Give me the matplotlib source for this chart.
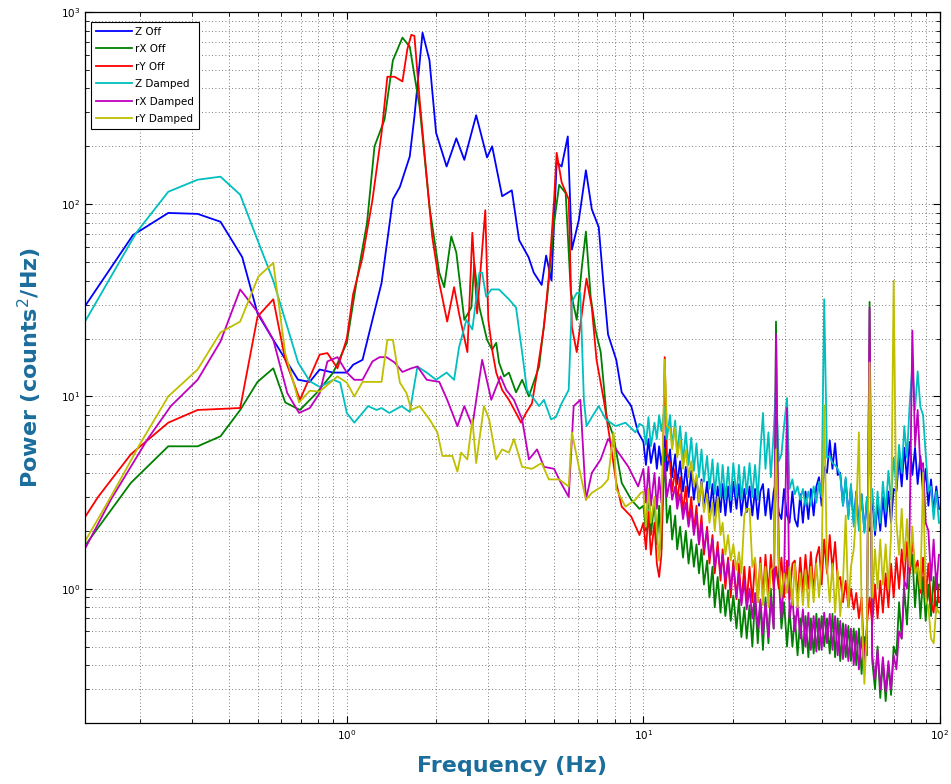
import numpy as np
import matplotlib.pyplot as plt

# ---- low frequency part (Hz, counts^2/Hz)
zoff_f = [0.132, 0.19, 0.25, 0.314, 0.375, 0.444, 0.5, 0.565, 0.63, 0.685, 0.75, 0.81, 0.9, 1.0,
          1.05, 1.13, 1.22, 1.31, 1.43, 1.51, 1.63, 1.69, 1.8, 1.9, 2.0, 2.17, 2.34, 2.49, 2.73,
          2.97, 3.09, 3.34, 3.6, 3.81, 4.1, 4.27, 4.54, 4.7, 4.9, 5.1, 5.3, 5.56, 5.74, 6.06,
          6.4, 6.7, 7.07, 7.35, 7.6, 8.1, 8.45, 9.1, 9.6]
zoff_v = [30, 69, 90, 89, 81, 53, 27, 19.7, 15, 12.2, 11.9, 13.8, 13.3, 13.3,
          14.6, 15.5, 25, 39, 106, 123, 177, 285, 780, 560, 235, 157, 220, 170, 290,
          175, 200, 110, 118, 65, 53, 44, 38, 54, 40, 165, 157, 225, 58, 83,
          150, 94, 76, 37, 21, 15.5, 10.5, 8.9, 6.5]

rxoff_f = [0.132, 0.187, 0.25, 0.314, 0.375, 0.437, 0.5, 0.565, 0.62, 0.695, 0.79, 0.9, 1.0,
           1.08, 1.17, 1.24, 1.34, 1.43, 1.54, 1.63, 1.76, 1.9, 2.05, 2.13, 2.25, 2.34, 2.49,
           2.63, 2.69, 2.8, 2.97, 3.09, 3.19, 3.26, 3.39, 3.52, 3.72, 3.9, 4.11, 4.45, 4.73,
           5.0, 5.2, 5.47, 5.69, 5.96, 6.2, 6.4, 6.64, 6.9, 7.18, 7.52, 7.93, 8.45, 9.1, 9.7]
rxoff_v = [1.7, 3.55, 5.5, 5.5, 6.2, 8.5, 11.9, 14, 9.3, 8.5, 10.4, 13.3, 19,
           40, 80, 200, 275, 560, 735, 660, 320, 97, 44, 37, 68, 56, 25,
           29, 49, 29, 19.7, 17.5, 19, 15, 12.7, 13.3, 10.5, 12.2, 10, 14.3, 32,
           80, 126, 114, 35, 25, 47, 72, 33, 22, 17, 7.8, 6.2, 3.55, 2.9, 2.6]

ryoff_f = [0.132, 0.145, 0.187, 0.25, 0.314, 0.437, 0.5, 0.565, 0.62, 0.695, 0.81, 0.86, 0.93,
           1.0, 1.05, 1.13, 1.22, 1.31, 1.37, 1.45, 1.54, 1.6, 1.65, 1.69, 1.76, 1.86, 1.94,
           2.05, 2.18, 2.3, 2.39, 2.55, 2.65, 2.75, 2.93, 3.0, 3.1, 3.19, 3.34, 3.52, 3.72,
           3.87, 4.02, 4.21, 4.38, 4.62, 4.8, 5.0, 5.1, 5.3, 5.6, 5.74, 5.96, 6.2, 6.43, 6.7,
           6.95, 7.35, 7.75, 8.1, 8.45, 9.1, 9.7]
ryoff_v = [2.4, 3.0, 5.0, 7.3, 8.5, 8.7, 26, 32, 15.5, 9.6, 16.5, 16.8, 14,
           20, 34, 53, 105, 235, 460, 460, 435, 640, 760, 750, 350, 139, 68,
           39, 24.5, 37, 27, 17, 71, 27, 93, 25, 17, 13.3, 10.8, 9.6, 8.2,
           7.3, 8.2, 9.2, 13.3, 23, 42, 106, 185, 130, 106, 23, 17, 27, 41, 29,
           15.5, 9.6, 5.7, 3.55, 2.67, 2.37, 1.9]

zd_f = [0.132, 0.195, 0.25, 0.314, 0.375, 0.437, 0.5, 0.565, 0.63, 0.685, 0.75, 0.81, 0.9, 0.95,
        1.0, 1.06, 1.18, 1.26, 1.31, 1.39, 1.53, 1.63, 1.73, 1.86, 2.0, 2.17, 2.3, 2.39, 2.53,
        2.65, 2.8, 2.86, 2.95, 3.07, 3.26, 3.52, 3.72, 3.9, 4.05, 4.21, 4.45, 4.62, 4.88, 5.07,
        5.3, 5.6, 5.74, 5.96, 6.13, 6.3, 6.43, 6.7, 7.07, 7.47, 8.06, 8.7, 9.4, 9.7]
zd_v = [25, 71, 116, 134, 139, 112, 65, 40, 23, 15, 12, 11.2, 12.2, 11.8,
        8.2, 7.3, 8.9, 8.5, 8.7, 8.2, 8.9, 8.3, 14.3, 13.3, 12.2, 13.3, 12.2, 18, 25,
        22.3, 44, 44, 33, 36, 36, 32, 29, 17, 10.8, 10, 8.9, 9.6, 7.6, 7.8,
        9.2, 10.8, 31, 34.5, 34.5, 9.6, 7, 7.8, 8.9, 7.6, 7, 7.3, 6.5, 7.2]

rxd_f = [0.132, 0.16, 0.213, 0.255, 0.314, 0.375, 0.437, 0.5, 0.565, 0.63, 0.69, 0.75, 0.81,
         0.86, 0.93, 1.0, 1.06, 1.13, 1.22, 1.29, 1.36, 1.45, 1.54, 1.65, 1.73, 1.86, 2.05,
         2.18, 2.36, 2.49, 2.65, 2.86, 3.07, 3.19, 3.3, 3.45, 3.66, 3.9, 4.11, 4.38, 4.62,
         5.0, 5.27, 5.6, 5.82, 6.13, 6.4, 6.7, 7.18, 7.6, 8.1, 8.9, 9.6]
rxd_v = [1.65, 2.9, 6.0, 8.9, 12.2, 19.3, 36, 27.5, 19.7, 10.4, 8.2, 8.7, 10.4,
         15.2, 16, 13.3, 12.2, 12.2, 15.2, 16, 16, 15, 13.4, 14, 14.3, 12.2, 11.9,
         9.6, 7, 8.9, 7, 15.5, 9.6, 11.2, 12.7, 10.8, 9.6, 7.6, 4.7, 5.3, 4.3,
         4.2, 3.55, 3.0, 8.9, 9.6, 2.9, 4.0, 4.7, 6.0, 5.3, 4.3, 3.4]

ryd_f = [0.132, 0.16, 0.202, 0.25, 0.314, 0.375, 0.437, 0.503, 0.565, 0.62, 0.69, 0.75, 0.81,
         0.93, 1.0, 1.06, 1.13, 1.22, 1.31, 1.37, 1.43, 1.51, 1.59, 1.65, 1.76, 1.9, 2.02,
         2.1, 2.27, 2.36, 2.43, 2.55, 2.65, 2.73, 2.9, 3.02, 3.19, 3.34, 3.52, 3.66, 3.9,
         4.21, 4.54, 4.8, 5.2, 5.6, 5.74, 6.06, 6.4, 6.7, 7.25, 7.6, 7.93, 8.1, 8.7, 9.4, 9.8]
ryd_v = [1.8, 3.0, 5.75, 10, 13.8, 21.5, 24.5, 42, 49.5, 16.8, 9.3, 10.7, 10.6,
         12.7, 11.8, 10, 11.9, 11.9, 11.9, 19.7, 19.7, 11.8, 10.4, 8.5, 8.9, 7.6, 6.5,
         4.9, 4.9, 4.06, 5.1, 4.7, 7.6, 4.5, 8.9, 7.6, 4.7, 5.3, 5.1, 6.0, 4.3,
         4.2, 4.5, 3.7, 3.7, 3.4, 6.5, 4.3, 2.9, 3.15, 3.4, 3.7, 6.5, 3.3, 2.67, 2.9, 3.15]

# ---- high frequency part, shared frequency bins (Hz)
hi_f = [10.0, 10.2, 10.4, 10.6, 10.9, 11.1, 11.3, 11.5, 11.8, 12.0,
        12.3, 12.5, 12.8, 13.0, 13.3, 13.6, 13.9, 14.2, 14.5, 14.8,
        15.1, 15.4, 15.7, 16.0, 16.4, 16.7, 17.1, 17.4, 17.8, 18.2,
        18.5, 18.9, 19.3, 19.7, 20.1, 20.6, 21.0, 21.4, 21.9, 22.3,
        22.8, 23.3, 23.8, 24.3, 24.8, 25.3, 25.8, 26.4, 26.9, 27.5,
        28.0, 28.6, 29.2, 29.8, 30.5, 31.1, 31.8, 32.4, 33.1, 33.8,
        34.5, 35.2, 36.0, 36.7, 37.5, 38.3, 39.1, 39.9, 40.7, 41.6,
        42.5, 43.4, 44.3, 45.2, 46.1, 47.1, 48.1, 49.1, 50.1, 51.2,
        52.2, 53.3, 54.4, 55.6, 56.7, 57.9, 59.1, 60.4, 61.6, 62.9,
        64.2, 65.6, 67.0, 68.4, 69.8, 71.3, 72.8, 74.3, 75.8, 77.4,
        79.0, 80.7, 82.4, 84.1, 85.9, 87.7, 89.5, 91.4, 93.3, 95.2,
        97.2, 99.2]

zoff_hi = [5.8, 4.4, 6.0, 4.5, 5.7, 4.2, 5.5, 4.4, 6.2, 4.1,
           5.3, 3.8, 5.0, 3.5, 4.6, 3.2, 4.3, 3.0, 4.1, 2.9,
           3.8, 2.7, 3.7, 2.6, 3.6, 2.5, 3.5, 2.4, 3.4, 2.5,
           3.5, 2.4, 3.4, 2.5, 3.6, 2.6, 3.5, 2.4, 3.3, 2.5,
           3.4, 2.4, 3.3, 2.3, 3.2, 3.5, 2.4, 3.3, 2.3, 3.2,
           3.6, 2.5, 2.3, 3.3, 2.4, 2.2, 3.2, 2.3, 2.1, 3.1,
           2.2, 3.2, 2.3, 3.3, 2.4, 3.4, 3.8, 2.7, 4.3, 4.0,
           5.9, 4.2, 5.7, 3.9, 4.0, 2.7, 3.7, 2.4, 3.4, 2.2,
           3.2, 2.1, 3.1, 2.0, 2.9, 2.0, 3.0, 1.9, 2.8, 2.0,
           3.0, 2.1, 3.2, 2.2, 3.3, 3.2, 4.8, 3.4, 5.4, 3.7,
           5.8, 3.9, 5.4, 3.5, 4.9, 3.1, 4.2, 2.7, 3.7, 2.5,
           3.4, 2.6]

rxoff_hi = [2.7, 2.0, 3.2, 1.9, 2.9, 1.7, 2.7, 1.6, 5.3, 2.2,
            2.7, 1.8, 2.4, 1.6, 2.1, 1.45, 2.0, 1.35, 1.8, 1.3,
            1.7, 1.2, 1.6, 1.05, 1.4, 0.9, 1.3, 0.8, 1.15, 0.75,
            1.05, 0.72, 0.98, 0.68, 0.92, 0.62, 0.88, 0.56, 0.8, 0.55,
            0.82, 0.5, 0.9, 0.52, 0.85, 0.48, 0.9, 0.52, 1.0, 0.62,
            24.5, 1.2, 0.62, 0.85, 0.5, 0.78, 0.5, 0.72, 0.45, 0.7,
            0.46, 0.72, 0.44, 0.7, 0.46, 0.74, 0.48, 0.72, 0.5, 0.7,
            0.46, 0.74, 0.44, 0.7, 0.42, 0.66, 0.44, 0.64, 0.42, 0.62,
            0.4, 0.62, 0.36, 0.56, 0.45, 31.0, 0.42, 0.3, 0.5, 0.27,
            0.42, 0.26, 0.4, 0.28, 0.5, 0.45, 0.85, 0.55, 1.0, 0.65,
            1.2, 1.5, 0.8, 1.3, 0.7, 1.15, 0.68, 1.05, 0.72, 1.15,
            0.75, 1.05]

ryoff_hi = [2.2, 1.6, 2.5, 1.5, 2.2, 1.35, 1.15, 1.5, 16.0, 5.0,
            4.5, 3.2, 4.2, 2.8, 3.8, 2.5, 3.4, 2.2, 3.0, 2.0,
            2.7, 1.7, 2.4, 1.5, 2.1, 1.35, 1.9, 1.2, 1.75, 1.1,
            1.6, 1.0, 1.45, 0.9, 1.4, 0.88, 1.35, 0.85, 1.3, 0.85,
            1.3, 0.85, 1.4, 0.85, 1.45, 0.9, 1.5, 0.95, 1.5, 1.0,
            1.3, 1.0, 1.45, 0.9, 1.4, 0.88, 1.35, 1.4, 0.9, 1.45,
            0.95, 1.5, 1.0, 1.55, 0.95, 1.45, 1.65, 1.05, 1.8, 1.2,
            1.9, 1.25, 1.75, 1.1, 1.15, 0.85, 1.1, 0.8, 1.0, 0.78,
            0.95, 0.7, 0.9, 0.4, 0.65, 0.9, 0.65, 1.05, 0.7, 1.1,
            0.75, 1.2, 0.8, 1.35, 0.9, 1.45, 1.0, 1.6, 1.1, 1.75,
            1.2, 1.8, 1.25, 1.4, 0.95, 1.45, 0.9, 1.35, 0.85, 0.75,
            1.2, 0.85]

zd_hi = [7.0, 5.6, 7.8, 5.5, 7.3, 6.0, 8.0, 6.6, 8.8, 6.0,
         8.0, 5.5, 7.5, 5.0, 7.0, 4.6, 6.5, 4.4, 6.1, 4.1,
         5.7, 3.8, 5.3, 3.6, 4.9, 3.3, 4.7, 3.1, 4.5, 3.0,
         4.4, 2.9, 4.3, 2.9, 4.5, 3.0, 4.4, 2.9, 4.3, 3.1,
         4.5, 3.0, 4.4, 2.9, 5.2, 8.2, 4.2, 6.5, 3.8, 6.5,
         11.5, 4.6, 5.0, 7.0, 9.8, 3.3, 3.7, 3.1, 3.4, 2.9,
         3.3, 2.7, 3.2, 2.7, 3.4, 2.8, 3.6, 3.0, 32.0, 4.8,
         4.9, 4.5, 4.4, 4.2, 3.9, 2.7, 3.8, 2.3, 3.5, 2.1,
         3.2, 2.0, 3.1, 1.95, 3.0, 2.1, 3.3, 2.0, 3.2, 2.2,
         3.6, 2.5, 4.1, 2.9, 4.8, 3.4, 5.6, 4.0, 7.0, 4.8,
         9.0, 14.5, 8.5, 13.5, 8.8, 8.0, 5.0, 3.2, 3.4, 2.3,
         3.2, 2.2]

rxd_hi = [4.2, 2.8, 4.3, 2.7, 4.0, 2.6, 3.8, 2.8, 4.5, 3.0,
          3.7, 2.9, 3.4, 2.6, 3.1, 2.3, 2.8, 2.1, 2.6, 1.9,
          2.4, 1.7, 2.2, 1.6, 2.0, 1.45, 1.8, 1.3, 1.6, 1.2,
          1.5, 1.1, 1.4, 1.0, 1.3, 0.9, 1.2, 0.82, 1.1, 0.78,
          1.0, 0.7, 0.95, 0.62, 0.88, 0.58, 0.85, 0.56, 0.9, 0.62,
          21.0, 1.5, 0.7, 1.1, 8.7, 0.7, 0.9, 0.6, 0.82, 0.55,
          0.78, 0.5, 0.75, 0.48, 0.72, 0.47, 0.7, 0.48, 0.75, 0.52,
          0.74, 0.48, 0.72, 0.45, 0.68, 0.43, 0.65, 0.42, 0.62, 0.4,
          0.6, 0.38, 0.56, 0.4, 0.6, 29.0, 0.45, 0.34, 0.48, 0.3,
          0.44, 0.29, 0.42, 0.3, 0.45, 0.38, 0.6, 0.55, 1.1, 1.0,
          2.0, 22.0, 5.5, 8.5, 4.2, 4.5, 2.2, 2.0, 1.1, 1.8,
          1.0, 1.5]

ryd_hi = [3.2, 2.1, 3.3, 2.2, 3.0, 2.0, 1.4, 2.4, 15.5, 7.0,
          6.8, 5.3, 6.9, 4.8, 5.9, 4.2, 5.3, 3.8, 4.6, 3.4,
          3.9, 2.8, 3.6, 2.5, 3.1, 2.2, 2.8, 2.0, 3.0, 1.9,
          2.2, 1.5, 1.9, 1.4, 1.7, 1.25, 1.55, 1.2, 2.4, 2.6,
          2.6, 1.3, 1.45, 0.85, 1.35, 0.82, 1.3, 0.8, 1.25, 1.3,
          5.3, 1.4, 0.9, 1.2, 0.95, 1.3, 0.82, 1.35, 0.8, 1.2,
          0.82, 1.25, 0.8, 1.3, 0.85, 1.35, 0.9, 1.4, 9.0, 1.3,
          0.85, 1.35, 0.75, 1.25, 0.72, 1.1, 2.4, 0.8, 1.3, 1.6,
          2.5, 6.5, 0.8, 0.32, 0.6, 15.0, 0.9, 1.6, 1.0, 1.8,
          1.05, 1.7, 1.0, 1.9, 40.0, 2.2, 1.5, 2.6, 1.4, 2.3,
          1.3, 2.1, 1.2, 1.3, 1.0, 4.0, 0.9, 0.8, 0.55, 0.52,
          0.8, 0.75]

labels = ['Z Off', 'rX Off', 'rY Off', 'Z Damped', 'rX Damped', 'rY Damped']
colors = ['#0000ff', '#008000', '#ff0000', '#00bfbf', '#bf00bf', '#bfbf00']

series = [(zoff_f, zoff_v, zoff_hi), (rxoff_f, rxoff_v, rxoff_hi), (ryoff_f, ryoff_v, ryoff_hi),
          (zd_f, zd_v, zd_hi), (rxd_f, rxd_v, rxd_hi), (ryd_f, ryd_v, ryd_hi)]

fig = plt.figure(figsize=(9.51, 7.84), dpi=100)
ax = fig.add_axes([0.0894, 0.0778, 0.899, 0.907])

for (f, v, hi), lab, col in zip(series, labels, colors):
    ax.loglog(f + hi_f, v + hi, color=col, lw=1.3, label=lab)

ax.set_xlim(0.131, 100)
ax.set_ylim(0.2, 1000)

ax.grid(True, which='both', linestyle=(0, (1, 3)), color='#505050', linewidth=0.6)
ax.tick_params(which='both', direction='in', top=True, right=True, labelsize=7.5)
ax.tick_params(which='major', length=5)
ax.tick_params(which='minor', length=3)
for s in ax.spines.values():
    s.set_linewidth(0.9)

lab_col = '#1b6d9c'
ax.set_xlabel('Frequency (Hz)', fontsize=16, fontweight='bold', color=lab_col, labelpad=10)
ax.set_ylabel('Power (counts$^2$/Hz)', fontsize=16, fontweight='bold', color=lab_col, labelpad=12)

leg = ax.legend(loc='upper left', bbox_to_anchor=(0.007, 0.986), fontsize=7.5,
                handlelength=3.5, labelspacing=0.72, borderpad=0.45, handletextpad=0.3,
                fancybox=False, framealpha=1, edgecolor='black', borderaxespad=0)
leg.get_frame().set_linewidth(0.8)

plt.savefig('out.png', dpi=100)
